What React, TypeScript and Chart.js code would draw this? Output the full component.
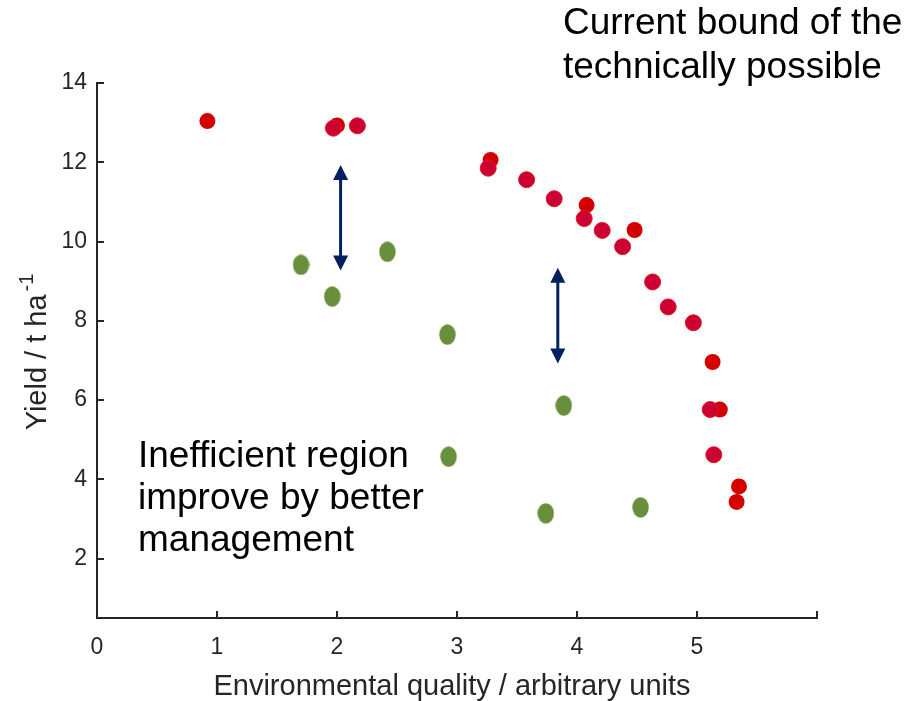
import React, { useEffect, useRef } from 'react';
import { Chart, registerables } from 'chart.js';

Chart.register(...registerables);

// Frontier farms drawn in bright red
const frontierRedX = [0.92, 2.0, 3.28, 4.08, 4.48, 5.13, 5.19, 5.35, 5.33];
const frontierRedY = [13.04, 12.93, 12.06, 10.92, 10.29, 6.96, 5.76, 3.82, 3.43];

// Frontier farms drawn in crimson
const frontierCrimsonX = [1.97, 2.17, 3.26, 3.58, 3.81, 4.06, 4.21, 4.38, 4.63, 4.76, 4.97, 5.11, 5.14];
const frontierCrimsonY = [12.86, 12.92, 11.85, 11.56, 11.08, 10.58, 10.28, 9.87, 8.98, 8.35, 7.95, 5.76, 4.62];

// Farms below the frontier
const inefficientX = [1.7, 1.96, 2.42, 2.92, 2.93, 3.89, 3.74, 4.53];
const inefficientY = [9.41, 8.61, 9.74, 7.65, 4.57, 5.86, 3.14, 3.29];

// Vertical double arrows showing the yield gap
const gapArrowX = [2.03, 3.84];
const gapArrowTop = [11.93, 9.34];
const gapArrowBottom = [9.27, 6.92];

const xTicks = [0, 1, 2, 3, 4, 5, 6];
const xTickLabels = ['0', '1', '2', '3', '4', '5', ''];
const yTicks = [2, 4, 6, 8, 10, 12, 14];

const X_MIN = 0;
const X_MAX = 6;
const Y_MIN = 0.5;
const Y_MAX = 14;

const FONT = "'Liberation Sans', Arial, Helvetica, sans-serif";
const AXIS_COLOR = '#262626';

function ellipseSprite(w: number, h: number, color: string): HTMLCanvasElement {
  const c = document.createElement('canvas');
  c.width = w;
  c.height = h;
  const g = c.getContext('2d')!;
  g.fillStyle = color;
  g.beginPath();
  g.ellipse(w / 2, h / 2, w / 2 - 0.3, h / 2 - 0.3, 0, 0, Math.PI * 2);
  g.fill();
  return c;
}

const decorations = {
  id: 'decorations',
  afterDraw(chart: any) {
    const { ctx, chartArea, scales } = chart;
    const xs = scales.x;
    const ys = scales.y;
    ctx.save();

    // inward tick marks
    ctx.strokeStyle = AXIS_COLOR;
    ctx.lineWidth = 2;
    ctx.beginPath();
    xTicks.forEach((v) => {
      if (v === X_MIN) return;
      const px = Math.round(xs.getPixelForValue(v));
      ctx.moveTo(px, chartArea.bottom);
      ctx.lineTo(px, chartArea.bottom - 7);
    });
    yTicks.forEach((v) => {
      const py = Math.round(ys.getPixelForValue(v));
      ctx.moveTo(chartArea.left, py);
      ctx.lineTo(chartArea.left + 7, py);
    });
    ctx.stroke();

    // x axis title
    ctx.fillStyle = AXIS_COLOR;
    ctx.font = `29px ${FONT}`;
    ctx.textAlign = 'center';
    ctx.textBaseline = 'alphabetic';
    ctx.fillText('Environmental quality / arbitrary units', 452, 695);

    // y axis title with superscript
    const main = 'Yield / t ha';
    const sup = '-1';
    ctx.font = `29px ${FONT}`;
    const w1 = ctx.measureText(main).width;
    ctx.font = `20px ${FONT}`;
    const w2 = ctx.measureText(sup).width;
    const gap = 3;
    const total = w1 + gap + w2;
    ctx.translate(46, 352);
    ctx.rotate(-Math.PI / 2);
    ctx.textAlign = 'left';
    ctx.font = `29px ${FONT}`;
    ctx.fillText(main, -total / 2, 0);
    ctx.font = `20px ${FONT}`;
    ctx.fillText(sup, -total / 2 + w1 + gap, -13);
    ctx.setTransform(1, 0, 0, 1, 0, 0);

    // yield gap arrows
    ctx.strokeStyle = '#002060';
    ctx.fillStyle = '#002060';
    ctx.lineWidth = 3;
    const head = 15;
    const half = 7.5;
    gapArrowX.forEach((xv, i) => {
      const px = xs.getPixelForValue(xv);
      const top = ys.getPixelForValue(gapArrowTop[i]);
      const bot = ys.getPixelForValue(gapArrowBottom[i]);
      ctx.beginPath();
      ctx.moveTo(px, top + head - 1);
      ctx.lineTo(px, bot - head + 1);
      ctx.stroke();
      ctx.beginPath();
      ctx.moveTo(px, top);
      ctx.lineTo(px + half, top + head);
      ctx.lineTo(px - half, top + head);
      ctx.closePath();
      ctx.fill();
      ctx.beginPath();
      ctx.moveTo(px, bot);
      ctx.lineTo(px + half, bot - head);
      ctx.lineTo(px - half, bot - head);
      ctx.closePath();
      ctx.fill();
    });

    // annotations
    ctx.fillStyle = '#000000';
    ctx.font = `37px ${FONT}`;
    ctx.textAlign = 'left';
    ctx.textBaseline = 'alphabetic';
    ctx.fillText('Current bound of the', 563, 34);
    ctx.fillText('technically possible', 563, 78);
    ctx.fillText('Inefficient region', 138, 467);
    ctx.fillText('improve by better', 138, 509);
    ctx.fillText('management', 138, 551);

    ctx.restore();
  },
};

export default function App() {
  const canvasRef = useRef<HTMLCanvasElement | null>(null);

  useEffect(() => {
    document.body.style.margin = '0';
    const canvas = canvasRef.current;
    if (!canvas) return;

    const greenSprite = ellipseSprite(17, 21, '#678F3C');

    const chart = new Chart(canvas, {
      type: 'scatter',
      data: {
        datasets: [
          {
            label: 'frontier (crimson)',
            data: frontierCrimsonX.map((x, i) => ({ x, y: frontierCrimsonY[i] })),
            backgroundColor: '#CC0033',
            borderColor: '#DD1A22',
            borderWidth: 1,
            pointRadius: 8,
          },
          {
            label: 'frontier (red)',
            data: frontierRedX.map((x, i) => ({ x, y: frontierRedY[i] })),
            backgroundColor: '#D40000',
            borderColor: '#D40000',
            borderWidth: 0,
            pointRadius: 8,
          },
          {
            label: 'inefficient',
            data: inefficientX.map((x, i) => ({ x, y: inefficientY[i] })),
            pointStyle: greenSprite as any,
            backgroundColor: '#678F3C',
            pointRadius: 10,
          },
        ],
      },
      options: {
        responsive: false,
        animation: false,
        devicePixelRatio: 1,
        events: [],
        layout: { padding: { left: 0, top: 83, right: 102, bottom: 0 } },
        plugins: {
          legend: { display: false },
          tooltip: { enabled: false },
          title: { display: false },
        },
        scales: {
          x: {
            type: 'linear',
            position: 'bottom',
            min: X_MIN,
            max: X_MAX,
            afterBuildTicks: (s: any) => {
              s.ticks = xTicks.map((v) => ({ value: v }));
            },
            afterFit: (s: any) => {
              s.height = 83;
            },
            grid: { display: false, drawTicks: false },
            border: { display: true, color: AXIS_COLOR, width: 2 },
            ticks: {
              autoSkip: false,
              maxRotation: 0,
              padding: 16,
              color: AXIS_COLOR,
              font: { family: FONT, size: 23 },
              callback: (v: any) => xTickLabels[xTicks.indexOf(Number(v))] ?? '',
            },
          },
          y: {
            type: 'linear',
            position: 'left',
            min: Y_MIN,
            max: Y_MAX,
            afterBuildTicks: (s: any) => {
              s.ticks = yTicks.map((v) => ({ value: v }));
            },
            afterFit: (s: any) => {
              s.width = 97;
            },
            grid: { display: false, drawTicks: false },
            border: { display: true, color: AXIS_COLOR, width: 2 },
            ticks: {
              autoSkip: false,
              padding: 10,
              color: AXIS_COLOR,
              font: { family: FONT, size: 23 },
              callback: (v: any) => String(v),
            },
          },
        },
      },
      plugins: [decorations],
    });

    return () => chart.destroy();
  }, []);

  return (
    <div style={{ position: 'absolute', left: 0, top: 0, width: 919, height: 701 }}>
      <canvas ref={canvasRef} width={919} height={701} style={{ display: 'block' }} />
    </div>
  );
}
